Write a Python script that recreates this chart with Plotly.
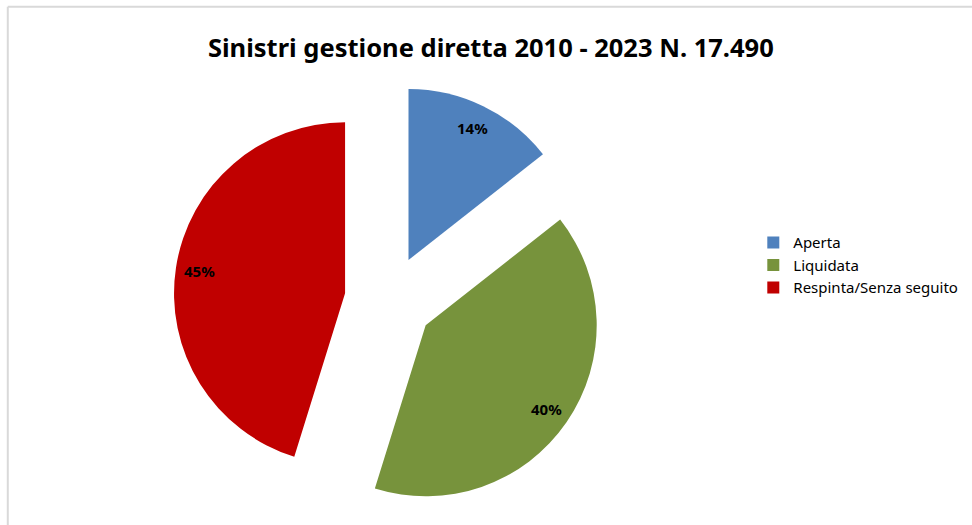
import math
import plotly.graph_objects as go

# Claim status shares (percent of 17,490 direct-management claims, 2010-2023)
categories = ["Aperta", "Liquidata", "Respinta/Senza seguito"]
shares = [14.4, 40.4, 45.2]
colors = ["#4f81bd", "#77933c", "#c00000"]

FONT = "Noto Sans"
W, H = 972, 525
PULL = 0.26
DOM_X = [0.1785, 0.622]
DOM_Y = [0.018, 0.839]

fig = go.Figure(
    go.Pie(
        labels=categories,
        values=shares,
        sort=False,
        direction="clockwise",
        rotation=0,
        pull=[PULL] * len(shares),
        marker=dict(colors=colors, line=dict(width=0)),
        textinfo="none",
        domain=dict(x=DOM_X, y=DOM_Y),
        hoverinfo="label+percent",
    )
)

# Percentage labels sit near the outer edge of each (pulled) slice,
# placed along the slice bisector the same way the pie lays it out.
dom_w = (DOM_X[1] - DOM_X[0]) * W
dom_h = (DOM_Y[1] - DOM_Y[0]) * H
radius = min(dom_w, dom_h) / (2 + 2 * PULL)
cx = (DOM_X[0] + DOM_X[1]) / 2 * W
cy = (1 - (DOM_Y[0] + DOM_Y[1]) / 2) * H
total = sum(shares)
annotations = []
start = 0.0
for v in shares:
    span = v / total * 360
    mid = math.radians(start + span / 2)
    dist = PULL * radius + 0.86 * radius
    px = cx + dist * math.sin(mid)
    py = cy - dist * math.cos(mid)
    annotations.append(
        dict(
            x=px / W, y=1 - py / H, xref="paper", yref="paper",
            xanchor="center", yanchor="middle",
            text=f"<b>{round(v / total * 100)}%</b>",
            showarrow=False,
            font=dict(family=FONT, size=15, color="#000000"),
        )
    )
    start += span

fig.update_layout(
    width=W,
    height=H,
    margin=dict(l=0, r=0, t=0, b=0),
    paper_bgcolor="#ffffff",
    plot_bgcolor="#ffffff",
    title=dict(
        text="<b>Sinistri gestione diretta 2010 - 2023 N. 17.490</b>",
        x=0.505,
        xanchor="center",
        y=0.909,
        yanchor="middle",
        font=dict(family=FONT, size=25.5, color="#000000"),
    ),
    legend=dict(
        x=0.775,
        y=0.495,
        xanchor="left",
        yanchor="middle",
        font=dict(family=FONT, size=15, color="#000000"),
        itemclick=False,
    ),
    annotations=annotations,
    shapes=[
        dict(type="line", xref="paper", yref="paper", x0=0.008, x1=1, y0=0.987, y1=0.987,
             line=dict(color="#d9d9d9", width=2)),
        dict(type="line", xref="paper", yref="paper", x0=0.008, x1=0.008, y0=0, y1=0.987,
             line=dict(color="#d9d9d9", width=2)),
    ],
)

fig.write_html("out.html")
